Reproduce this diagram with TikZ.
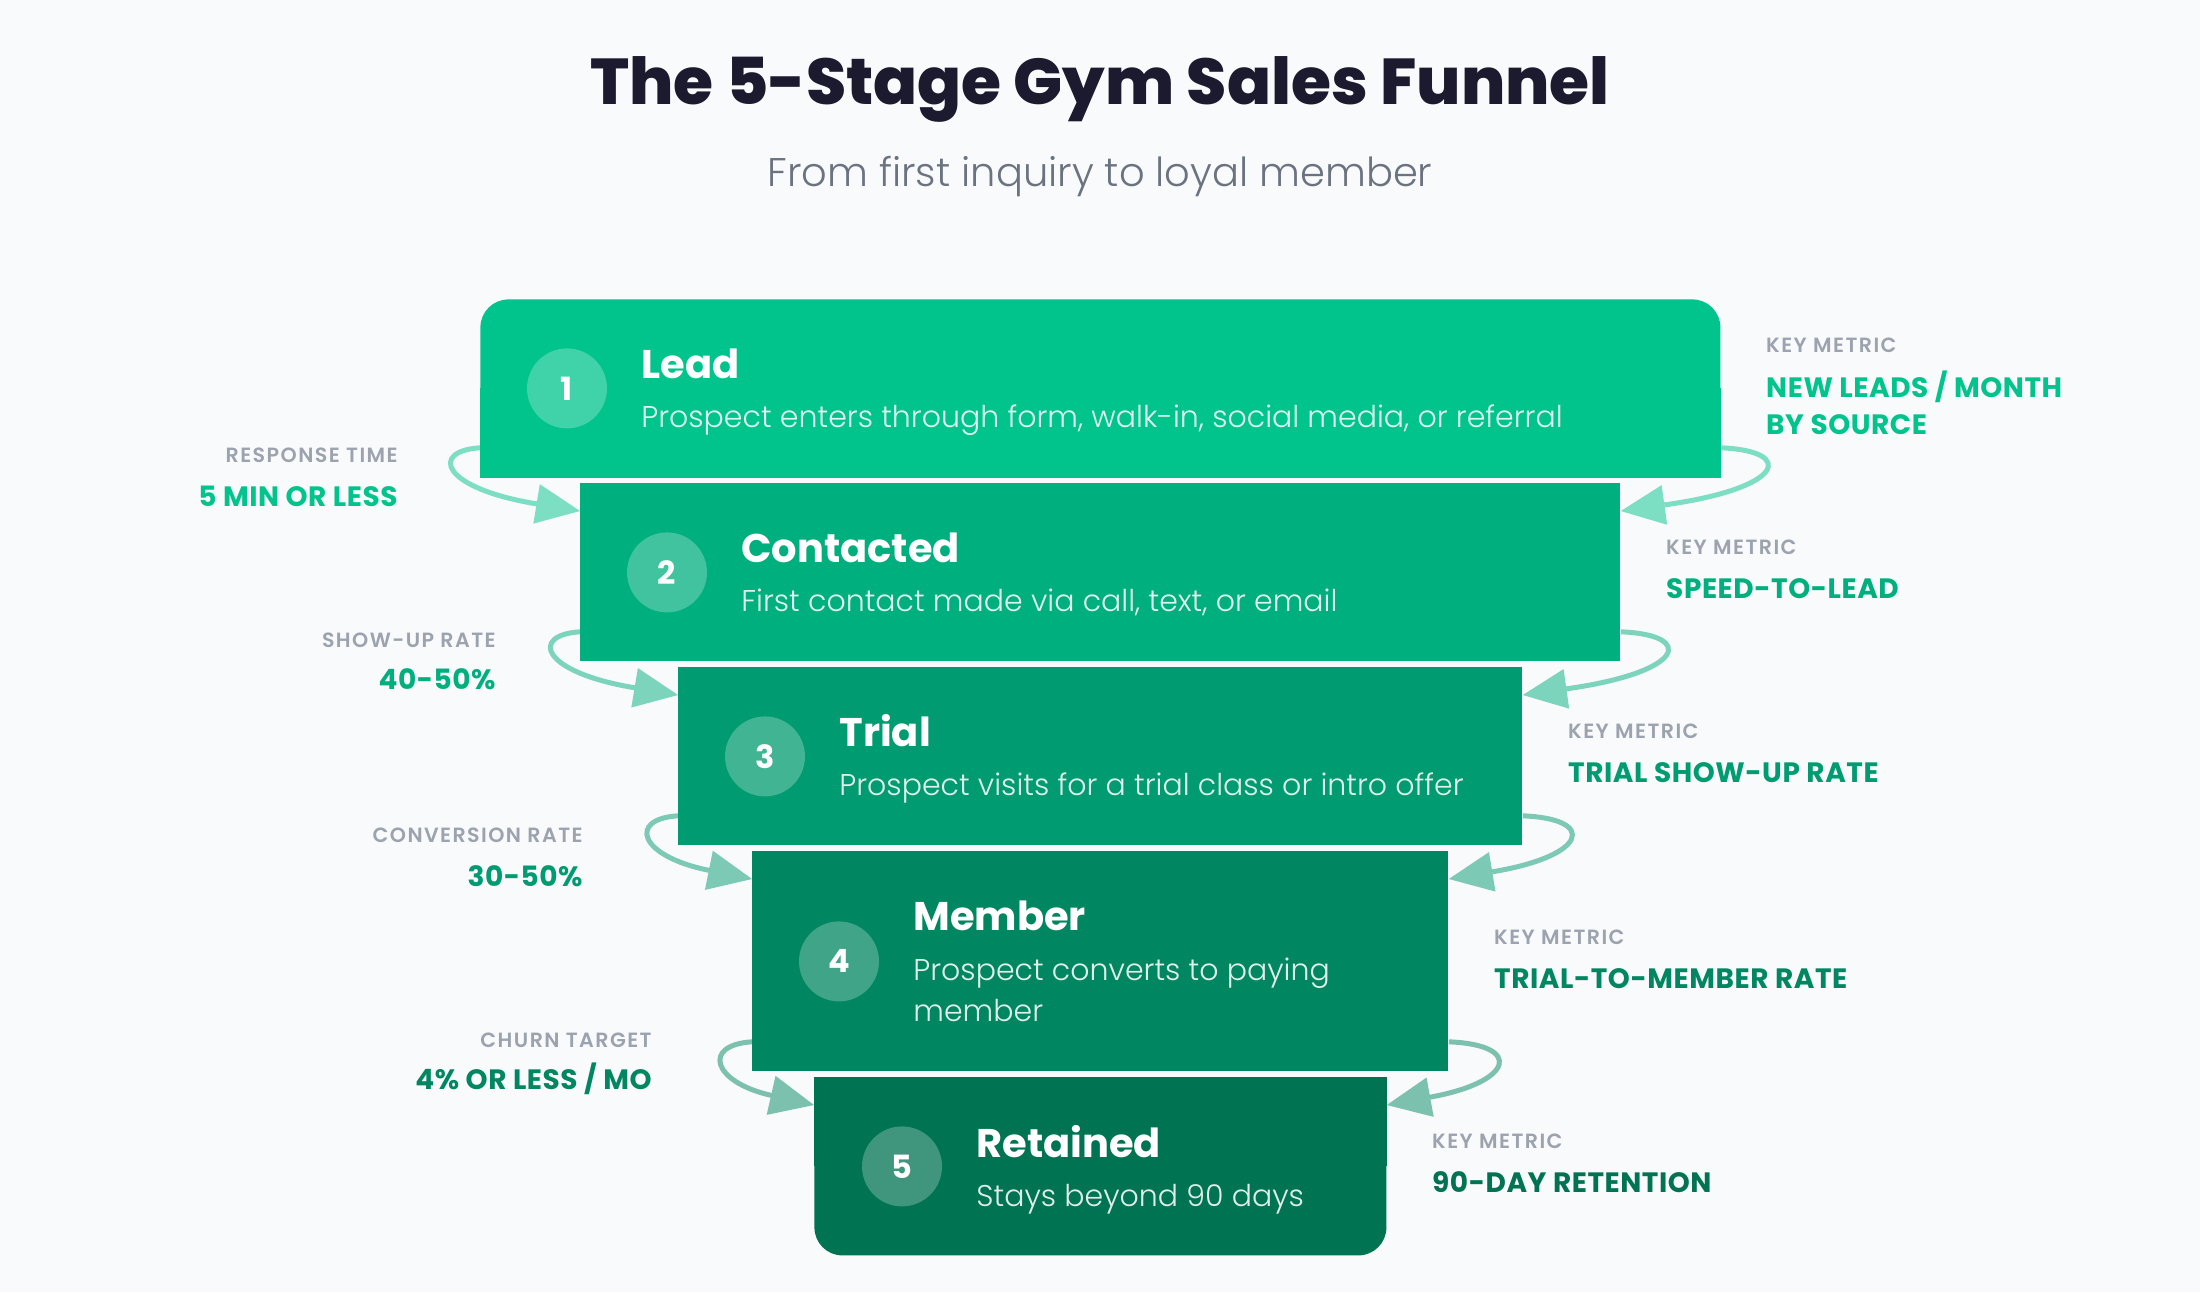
\documentclass[tikz,border=0pt]{standalone}
\usepackage{fontspec}
\setmainfont{Poppins}
\newfontfamily\poplight{Poppins Light}
\newfontfamily\popheavy{Poppins ExtraBold}
\newfontfamily\popsemi{Poppins SemiBold}[LetterSpace=7]
\newfontfamily\popwide{Poppins}[LetterSpace=2]
\usetikzlibrary{calc,arrows.meta}

\definecolor{bgc}{HTML}{F9FAFC}
\definecolor{titlec}{HTML}{1B1A2E}
\definecolor{subc}{HTML}{6B7280}
\definecolor{grayc}{HTML}{9CA3AF}
\definecolor{c1}{HTML}{00C48C}
\definecolor{c2}{HTML}{00AF7E}
\definecolor{c3}{HTML}{009B70}
\definecolor{c4}{HTML}{008761}
\definecolor{c5}{HTML}{007452}

\tikzset{
	stagebox/.style={rectangle, inner sep=0pt, anchor=north west},
	numdot/.style={circle, fill=white, fill opacity=0.25, text opacity=1, text=white, minimum size=40pt, inner sep=0pt, font=\bfseries\fontsize{16}{16}\selectfont},
	stagetitle/.style={anchor=base west, inner sep=0pt, text=white, font=\bfseries\fontsize{20}{24}\selectfont},
	stagetext/.style={anchor=base west, inner sep=0pt, text=white, text opacity=0.88, align=left, font=\poplight\fontsize{15}{20.5}\selectfont},
	metriclabel/.style={inner sep=0pt, text=grayc, font=\popsemi\fontsize{10.3}{12}\selectfont},
	metricvalue/.style={inner sep=0pt, align=left, font=\popwide\bfseries\fontsize{14}{18.5}\selectfont},
	loopline/.style={line width=2.5pt, opacity=0.5, -{Triangle[length=22pt,width=20pt,line width=0pt]}},
}

\begin{document}
\begin{tikzpicture}[x=0.5pt, y=-0.5pt]
		%%%%% START %%%%%
		
		\fill[bgc] (0,0) rectangle (2200,1292);
		
		\node[anchor=base, inner sep=0pt, text=titlec, font=\popheavy\fontsize{32.4}{38}\selectfont] (title) at (1100,104) {The 5-Stage Gym Sales Funnel};
		\node[anchor=base, inner sep=0pt, text=subc, font=\poplight\fontsize{20}{24}\selectfont] (subtitle) at (1100,186) {From first inquiry to loyal member};
		
		%%%%% STAGES %%%%%
		
		\node[stagebox, minimum width=620pt, minimum height=89pt, fill=c1, rounded corners=14pt] (s1) at (480,299) {};
		\fill[c1] (s1.west) rectangle (s1.south east);
		\node[stagebox, minimum width=520pt, minimum height=89pt, fill=c2] (s2) at (580,483) {};
		\node[stagebox, minimum width=422pt, minimum height=89pt, fill=c3] (s3) at (678,667) {};
		\node[stagebox, minimum width=348pt, minimum height=110pt, fill=c4] (s4) at (752,851) {};
		\node[stagebox, minimum width=286pt, minimum height=89pt, fill=c5, rounded corners=14pt] (s5) at (814,1077) {};
		\fill[c5] (s5.north west) rectangle (s5.east);
		
		\node[numdot] (n1) at ($(s1.west)+(87,0)$) {1};
		\node[stagetitle] (t1) at ($(s1.north west)+(161,79)$) {Lead};
		\node[stagetext] (d1) at ($(s1.north west)+(161,128)$) {Prospect enters through form, walk-in, social media, or referral};
		
		\node[numdot] (n2) at ($(s2.west)+(87,0)$) {2};
		\node[stagetitle] (t2) at ($(s2.north west)+(161,79)$) {Contacted};
		\node[stagetext] (d2) at ($(s2.north west)+(161,128)$) {First contact made via call, text, or email};
		
		\node[numdot] (n3) at ($(s3.west)+(87,0)$) {3};
		\node[stagetitle] (t3) at ($(s3.north west)+(161,79)$) {Trial};
		\node[stagetext] (d3) at ($(s3.north west)+(161,128)$) {Prospect visits for a trial class or intro offer};
		
		\node[numdot] (n4) at ($(s4.west)+(87,0)$) {4};
		\node[stagetitle] (t4) at ($(s4.north west)+(161,79)$) {Member};
		\node[stagetext] (d4) at ($(s4.north west)+(161,170)$) {Prospect converts to paying\\member};
		
		\node[numdot] (n5) at ($(s5.west)+(88,0)$) {5};
		\node[stagetitle] (t5) at ($(s5.north west)+(162,80)$) {Retained};
		\node[stagetext] (d5) at ($(s5.north west)+(162,129)$) {Stays beyond 90 days};
		
		%%%%% LOOPS %%%%%
		
		\draw[loopline, c1] ($(s1.south west)+(0,-30)$) .. controls +(-50,3) and +(-140,-23) .. ($(s2.north west)+(0,28)$);
		\draw[loopline, c1] ($(s1.south east)+(0,-30)$) .. controls +(75,3) and +(165,-23) .. ($(s2.north east)+(0,28)$);
		\draw[loopline, c2] ($(s2.south west)+(0,-30)$) .. controls +(-50,3) and +(-138,-23) .. ($(s3.north west)+(0,28)$);
		\draw[loopline, c2] ($(s2.south east)+(0,-30)$) .. controls +(75,3) and +(163,-23) .. ($(s3.north east)+(0,28)$);
		\draw[loopline, c3] ($(s3.south west)+(0,-30)$) .. controls +(-50,3) and +(-114,-23) .. ($(s4.north west)+(0,28)$);
		\draw[loopline, c3] ($(s3.south east)+(0,-30)$) .. controls +(75,3) and +(139,-23) .. ($(s4.north east)+(0,28)$);
		\draw[loopline, c4] ($(s4.south west)+(0,-30)$) .. controls +(-50,3) and +(-102,-23) .. ($(s5.north west)+(0,28)$);
		\draw[loopline, c4] ($(s4.south east)+(0,-30)$) .. controls +(75,3) and +(127,-23) .. ($(s5.north east)+(0,28)$);
		
		%%%%% METRICS %%%%%
		
		\node[metriclabel, anchor=base east] (l1) at (398,462) {RESPONSE TIME};
		\node[metricvalue, anchor=base east, text=c1] (m1) at (398,506) {5 MIN OR LESS};
		\node[metriclabel, anchor=base east] (l2) at (496,647) {SHOW-UP RATE};
		\node[metricvalue, anchor=base east, text=c2] (m2) at (496,689) {40-50\%};
		\node[metriclabel, anchor=base east] (l3) at (583,842) {CONVERSION RATE};
		\node[metricvalue, anchor=base east, text=c3] (m3) at (583,886) {30-50\%};
		\node[metriclabel, anchor=base east] (l4) at (652,1047) {CHURN TARGET};
		\node[metricvalue, anchor=base east, text=c4] (m4) at (652,1089) {4\% OR LESS / MO};
		
		\node[metriclabel, anchor=base west] (k1) at ($(s1.east)+(45,-36)$) {KEY METRIC};
		\node[metricvalue, anchor=base west, text=c1] (v1) at ($(s1.east)+(45,46)$) {NEW LEADS / MONTH\\BY SOURCE};
		\node[metriclabel, anchor=base west] (k2) at ($(s2.east)+(45,-18)$) {KEY METRIC};
		\node[metricvalue, anchor=base west, text=c2] (v2) at ($(s2.east)+(45,26)$) {SPEED-TO-LEAD};
		\node[metriclabel, anchor=base west] (k3) at ($(s3.east)+(45,-18)$) {KEY METRIC};
		\node[metricvalue, anchor=base west, text=c3] (v3) at ($(s3.east)+(45,26)$) {TRIAL SHOW-UP RATE};
		\node[metriclabel, anchor=base west] (k4) at ($(s4.east)+(45,-17)$) {KEY METRIC};
		\node[metricvalue, anchor=base west, text=c4] (v4) at ($(s4.east)+(45,27)$) {TRIAL-TO-MEMBER RATE};
		\node[metriclabel, anchor=base west] (k5) at ($(s5.east)+(45,-18)$) {KEY METRIC};
		\node[metricvalue, anchor=base west, text=c5] (v5) at ($(s5.east)+(45,26)$) {90-DAY RETENTION};
		
		%%%%% END %%%%%
\end{tikzpicture}
\end{document}
